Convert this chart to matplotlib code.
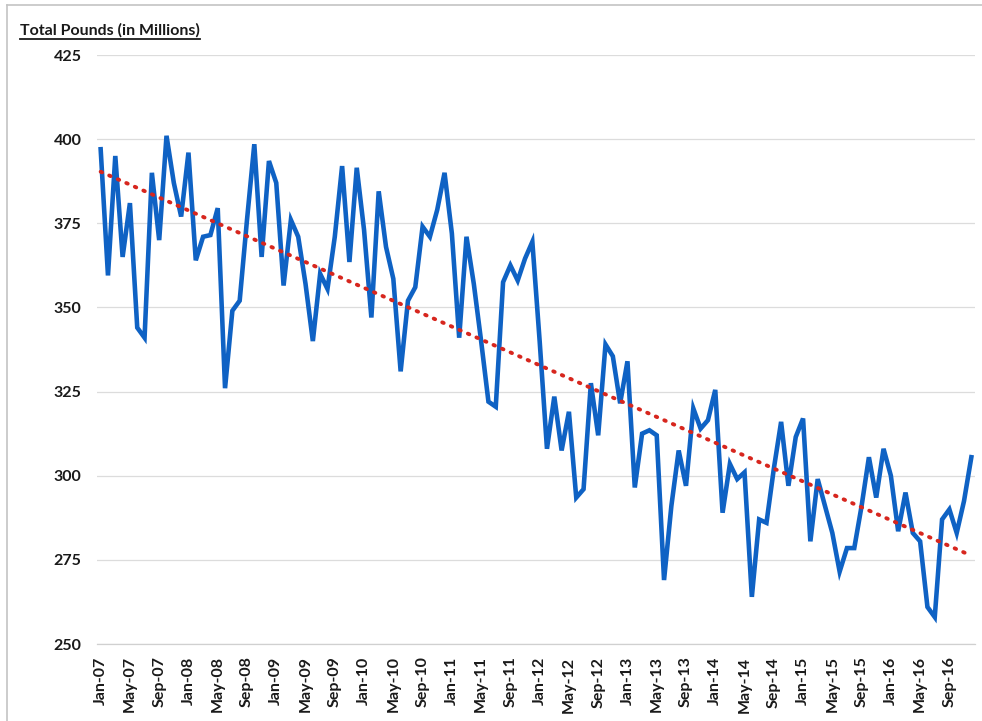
import numpy as np
import pandas as pd
import matplotlib
matplotlib.use('Agg')
import matplotlib.pyplot as plt
from matplotlib.lines import Line2D

plt.rcParams['font.family'] = ['Lato', 'DejaVu Sans']

# Monthly totals, Jan-07 .. Dec-16 (millions of pounds)
START = '2007-01-01'
pounds = [
    397, 359.5, 395, 365, 381, 344, 341, 390, 370, 401, 387, 377,
    396, 364, 371, 371.5, 379.5, 326, 349, 352, 376, 398.5, 365, 393.5,
    387, 356.5, 376, 371, 357, 340, 360, 355.5, 371, 392, 363.5, 391.5,
    373, 347, 384.5, 368, 358.5, 331, 352, 356, 374, 371, 379, 390,
    372, 341, 371, 357, 340, 322, 320.5, 357.5, 362.5, 358, 364.5, 369.5,
    340, 308, 323.5, 307.5, 319, 293.5, 296, 327.5, 312, 339, 335.5, 321.5,
    334, 296.5, 312.5, 313.5, 312, 269, 291, 307.5, 297, 320, 314, 316.5,
    325.5, 289, 303.5, 299, 301, 264, 287, 286, 302, 316, 297, 311.5,
    317, 280.5, 299, 291, 283, 271.5, 278.5, 278.5, 291, 305.5, 293.5, 308,
    300, 283.5, 295, 283, 280.5, 261, 258, 287, 290, 283, 292.5, 305.5,
]
y_ticks = [250, 275, 300, 325, 350, 375, 400, 425]

months = pd.date_range(START, periods=len(pounds), freq='MS')
month_labels = [m.strftime('%b-%y') for m in months]
x = np.arange(len(pounds))

# linear trendline, like Excel's
slope, intercept = np.polyfit(x, pounds, 1)
trend = slope * x + intercept

fig = plt.figure(figsize=(9.82, 7.21), dpi=100)
ax = fig.add_axes([97 / 982, 77 / 721, 878 / 982, 589 / 721])

ax.plot(x, pounds, color='#0F62C4', lw=3.3, solid_joinstyle='miter', zorder=3)
ax.plot(x, trend, color='#D7261E', lw=2.8, linestyle=(0, (0.4, 2.0)),
        dash_capstyle='round', zorder=4)

ax.set_xlim(-0.5, len(pounds) - 0.5)
ax.set_ylim(250, 425)
ax.set_yticks(y_ticks)
ax.set_yticklabels([str(v) for v in y_ticks], fontsize=11.5, fontweight='bold', color='#1a1a1a')
ax.set_xticks(x[::4])
ax.set_xticklabels(month_labels[::4], rotation=90, fontsize=11.5, fontweight='bold', color='#1a1a1a')
ax.tick_params(axis='y', length=0, pad=11)
ax.tick_params(axis='x', length=0, pad=9)

ax.grid(axis='y', color='#dcdcdc', lw=0.9)
ax.set_axisbelow(True)
for side in ['left', 'right', 'top']:
    ax.spines[side].set_visible(False)
ax.spines['bottom'].set_color('#d0d0d0')
ax.spines['bottom'].set_linewidth(0.9)

# chart frame (left and top edges of the scanned box)
fig.add_artist(Line2D([7 / 982, 7 / 982], [0, 1 - 5 / 721], color='#c4c4c4', lw=1.2))
fig.add_artist(Line2D([7 / 982, 1], [1 - 5 / 721, 1 - 5 / 721], color='#c4c4c4', lw=1.2))

title = fig.text(20 / 982, 1 - 30 / 721, 'Total Pounds (in Millions)', fontsize=11.5,
                 fontweight='bold', color='#1a1a1a', ha='left', va='center')
fig.canvas.draw()
bb = title.get_window_extent().transformed(fig.transFigure.inverted())
fig.add_artist(Line2D([bb.x0, bb.x1], [bb.y0 - 1.5 / 721] * 2, color='#1a1a1a', lw=1.3))

fig.savefig('out.png', dpi=100)
